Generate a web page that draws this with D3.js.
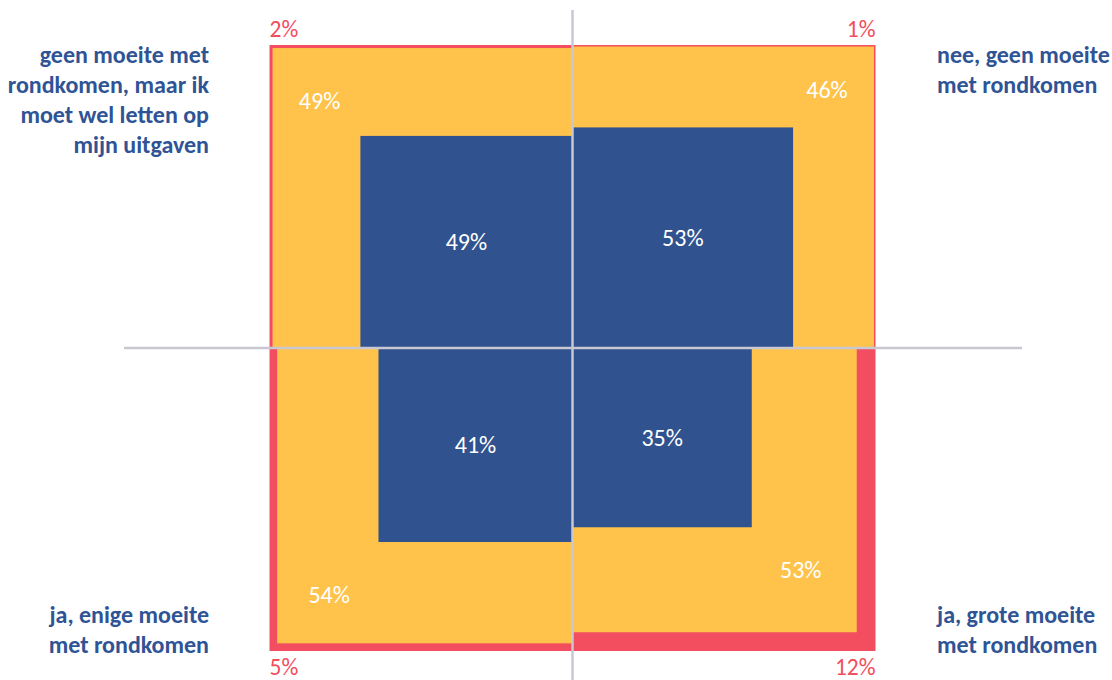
<!DOCTYPE html>
<html>
<head>
<meta charset="utf-8">
<script src="https://cdn.jsdelivr.net/npm/d3@7"></script>
<style>
  body { margin: 0; background: #fff; }
  svg text { font-family: Carlito, Lato, sans-serif; }
</style>
</head>
<body>
<div id="chart"></div>
<script>
// quadrants: tl, tr, bl, br
const quadrants = ["tl", "tr", "bl", "br"];
const categories = [
    ["geen moeite met", "rondkomen, maar ik", "moet wel letten op", "mijn uitgaven"],
    ["nee, geen moeite", "met rondkomen"],
    ["ja, enige moeite", "met rondkomen"],
    ["ja, grote moeite", "met rondkomen"]
];
const blueValues = [49, 53, 41, 35];
const yellowValues = [49, 46, 54, 53];
const redValues = [2, 1, 5, 12];

const width = 1112, height = 680;
const cx = 572.5, cy = 348;

const svg = d3.select("#chart").append("svg")
    .attr("width", width)
    .attr("height", height);

// area of the square ~ percentage
const side = d3.scaleSqrt().domain([0, 100]).range([0, 303]);

const colors = {red: "#F24E60", yellow: "#FFC34B", blue: "#30528F", text: "#2F5496", axis: "#C8C8D2"};

let data = quadrants.map((q, i) => ({
    q: q,
    dx: q[1] === "l" ? -1 : 1,
    dy: q[0] === "t" ? -1 : 1,
    blue: blueValues[i],
    yellow: yellowValues[i],
    red: redValues[i],
    lines: categories[i]
}));

function sq(d, v) {
    let s = side(v);
    return {x: d.dx < 0 ? cx - s : cx, y: d.dy < 0 ? cy - s : cy, s: s};
}

data.forEach(d => {
    let layers = [
        [d.red + d.yellow + d.blue, colors.red],
        [d.yellow + d.blue, colors.yellow],
        [d.blue, colors.blue]
    ];
    layers.forEach(l => {
        let r = sq(d, l[0]);
        svg.append("rect")
            .attr("x", r.x).attr("y", r.y)
            .attr("width", r.s).attr("height", r.s)
            .attr("fill", l[1]);
    });
});

// axis lines
svg.append("line")
    .attr("x1", cx).attr("x2", cx)
    .attr("y1", 10).attr("y2", 680)
    .attr("stroke", colors.axis).attr("stroke-width", 2.5);
svg.append("line")
    .attr("x1", 124).attr("x2", 1022)
    .attr("y1", cy).attr("y2", cy)
    .attr("stroke", colors.axis).attr("stroke-width", 2.5);

// yellow label offsets from outer corner of yellow square
const yOff = {tl: [47, 53], tr: [-47, 43], bl: [52, -49], br: [-56, -63]};

data.forEach(d => {
    // blue label in middle of blue square
    let b = sq(d, d.blue);
    svg.append("text")
        .attr("x", b.x + b.s / 2)
        .attr("y", b.y + b.s / 2)
        .attr("dy", "0.35em")
        .attr("text-anchor", "middle")
        .attr("fill", "white")
        .attr("font-size", 24)
        .text(d.blue + "%");

    let y = sq(d, d.yellow + d.blue);
    let ox = d.dx < 0 ? y.x : y.x + y.s;
    let oy = d.dy < 0 ? y.y : y.y + y.s;
    svg.append("text")
        .attr("x", ox + yOff[d.q][0])
        .attr("y", oy + yOff[d.q][1])
        .attr("dy", "0.35em")
        .attr("text-anchor", "middle")
        .attr("fill", "white")
        .attr("font-size", 24)
        .text(d.yellow + "%");

    let r = sq(d, d.red + d.yellow + d.blue);
    svg.append("text")
        .attr("x", d.dx < 0 ? r.x : r.x + r.s)
        .attr("y", d.dy < 0 ? r.y - 16 : r.y + r.s + 16)
        .attr("dy", "0.35em")
        .attr("text-anchor", d.dx < 0 ? "start" : "end")
        .attr("fill", colors.red)
        .attr("font-size", 23.5)
        .text(d.red + "%");

    // category label
    let t = svg.append("text")
        .attr("x", d.dx < 0 ? 209 : 937)
        .attr("text-anchor", d.dx < 0 ? "end" : "start")
        .attr("fill", colors.text)
        .attr("font-size", 24)
        .attr("font-weight", "bold");
    let y0 = d.dy < 0 ? 55 : 615;
    d.lines.forEach((line, k) => {
        t.append("tspan")
            .attr("x", d.dx < 0 ? 209 : 937)
            .attr("y", y0 + k * 30)
            .attr("dy", "0.35em")
            .text(line);
    });
});
</script>
</body>
</html>
